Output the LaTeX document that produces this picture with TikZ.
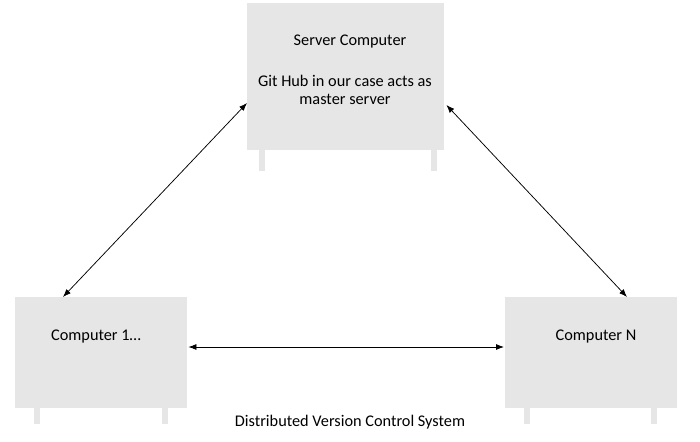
\documentclass[tikz,border=0pt]{standalone}
\usepackage{fontspec}
\setmainfont{Carlito}
\usetikzlibrary{arrows.meta,calc}
\begin{document}
\begin{tikzpicture}[x=1pt,y=-1pt,
  box/.style={fill=boxgray,draw=none,inner sep=0pt,anchor=north west},
  leg/.style={fill=boxgray,draw=none},
  lbl/.style={font=\fontsize{16.3}{18.5}\selectfont,text=black,align=center,inner sep=0pt},
  link/.style={{Latex[length=8pt,width=6pt]}-{Latex[length=8pt,width=6pt]},line width=0.75pt}]
\definecolor{boxgray}{HTML}{E6E6E6}
\useasboundingbox (0,0) rectangle (700,441);
% boxes
\node[box,minimum width=197pt,minimum height=147pt] (srv) at (247,3) {};
\node[box,minimum width=172pt,minimum height=111pt] (c1) at (15,297) {};
\node[box,minimum width=172pt,minimum height=111pt] (cn) at (505,297) {};
% legs
\fill[leg] (259,150) rectangle (265,171);
\fill[leg] (431,150) rectangle (437,171);
\fill[leg] (34,408) rectangle (40,424);
\fill[leg] (162,408) rectangle (168,424);
\fill[leg] (524,408) rectangle (530,424);
\fill[leg] (651,408) rectangle (657,424);
% labels
\node[lbl] (t1) at (350,42) {Server Computer};
\node[lbl] (t2) at (345,90) {Git Hub in our case acts as\\master server};
\node[lbl] (t3) at (96,337) {Computer 1…};
\node[lbl] (t4) at (596,337) {Computer N};
\node[lbl] (cap) at (350,422) {Distributed Version Control System};
% connectors
\coordinate (a1) at ($(srv.north west)+(0,100)$);
\coordinate (a2) at ($(c1.north west)+(48,0)$);
\coordinate (b1) at ($(srv.north east)+(2,102)$);
\coordinate (b2) at ($(cn.north west)+(122,0)$);
\coordinate (h1) at ($(c1.north east)+(1,50)$);
\coordinate (h2) at ($(cn.north west)+(-1,50)$);
\draw[link] (a1) -- (a2);
\draw[link] (b1) -- (b2);
\draw[link] (h1) -- (h2);
\end{tikzpicture}
\end{document}
